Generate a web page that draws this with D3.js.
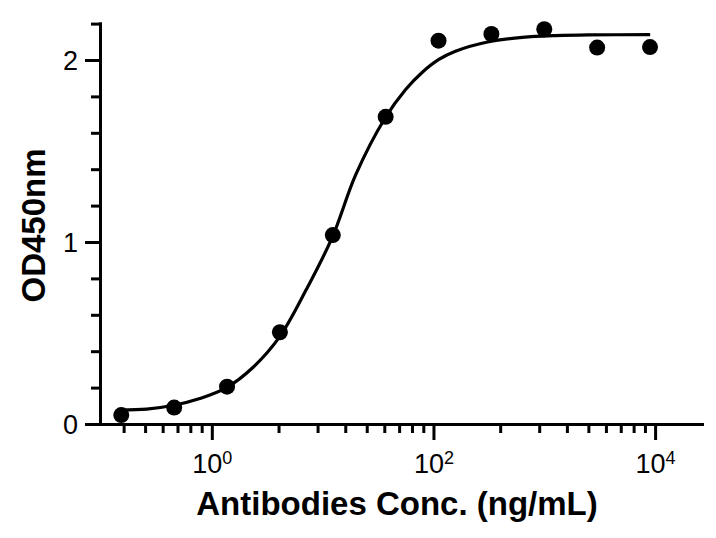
<!DOCTYPE html>
<html>
<head>
<meta charset="utf-8">
<script src="https://cdn.jsdelivr.net/npm/d3@7"></script>
<style>
  html, body { margin: 0; padding: 0; background: #fff; }
  svg { display: block; }
  text { font-family: "Liberation Sans", Arial, Helvetica, sans-serif; fill: #000; }
</style>
</head>
<body>
<svg id="chart" width="716" height="538"></svg>
<script>
// ---- data ----
const concentrations = [9000, 3000, 1000, 333.3, 111.1, 37.04, 12.35, 4.115, 1.372, 0.4572, 0.1524];
const odValues       = [2.071, 2.068, 2.169, 2.143, 2.106, 1.688, 1.038, 0.504, 0.205, 0.090, 0.049];

// fitted curve
const curveConc = [0.150, 0.258, 0.454, 0.779, 1.357, 2.36, 4.10, 7.14, 12.2, 19.9, 36.5, 56.1, 79.4, 112, 158, 316, 634, 1265, 2510, 9030];
const curveOD   = [0.077, 0.082, 0.103, 0.140, 0.200, 0.312, 0.480, 0.740, 1.025, 1.370, 1.680, 1.838, 1.933, 2.003, 2.048, 2.100, 2.124, 2.134, 2.138, 2.139];

const xMajorTicks = [1, 100, 10000];
const xMinorTicks = [0.16, 0.25, 0.36, 0.49, 0.64, 0.81,
                     4, 9, 16, 25, 36, 49, 64, 81,
                     400, 900, 1600, 2500, 3600, 4900, 6400, 8100];
const yMajorTicks = [0, 1, 2];
const yMinorTicks = [0.2, 0.4, 0.6, 0.8, 1.2, 1.4, 1.6, 1.8, 2.2];

const xTitle = "Antibodies Conc. (ng/mL)";
const yTitle = "OD450nm";

// ---- layout ----
const svg = d3.select("#chart");
const x = d3.scaleLog().domain([0.1, 26500]).range([101, 702]);
const y = d3.scaleLinear().domain([0, 2.2]).range([424, 23.6]);
const axisX0 = 100, axisY0 = 424;

function styleAxis(g) {
  g.selectAll("path.domain").attr("stroke", "#000").attr("stroke-width", 3).attr("stroke-linecap", "square");
  g.selectAll(".tick line").attr("stroke", "#000").attr("stroke-width", 3);
}

// Y axis: minor ticks
svg.append("g")
  .attr("transform", `translate(${axisX0},0)`)
  .call(d3.axisLeft(y).tickValues(yMinorTicks).tickSize(9).tickSizeOuter(0).tickFormat(""))
  .call(styleAxis);
// Y axis: major ticks + labels
const gy = svg.append("g")
  .attr("transform", `translate(${axisX0},0)`)
  .call(d3.axisLeft(y).tickValues(yMajorTicks).tickSize(15).tickSizeOuter(0).tickPadding(7).tickFormat(d3.format("d")))
  .call(styleAxis);
gy.selectAll(".tick text").attr("font-size", 27).attr("font-family", "Liberation Sans, Arial, sans-serif").attr("fill", "#000").attr("dy", "0.35em");

// X axis: minor ticks
svg.append("g")
  .attr("transform", `translate(0,${axisY0})`)
  .call(d3.axisBottom(x).tickValues(xMinorTicks).tickSize(9).tickSizeOuter(0).tickFormat(""))
  .call(styleAxis);
// X axis: major ticks + labels (10^n)
const gx = svg.append("g")
  .attr("transform", `translate(0,${axisY0})`)
  .call(d3.axisBottom(x).tickValues(xMajorTicks).tickSize(16).tickSizeOuter(0).tickFormat(""))
  .call(styleAxis);
gx.selectAll(".tick").each(function(d) {
  const t = d3.select(this).append("text")
    .attr("y", 49)
    .attr("text-anchor", "middle")
    .attr("font-size", 27)
    .attr("font-family", "Liberation Sans, Arial, sans-serif")
    .attr("fill", "#000");
  t.append("tspan").text("10");
  t.append("tspan").attr("font-size", 18).attr("dy", -9).text(String(Math.round(Math.log10(d))));
});

// Fitted curve
const curveData = curveConc.map((c, i) => [c, curveOD[i]]);
svg.append("path")
  .datum(curveData)
  .attr("fill", "none")
  .attr("stroke", "#000")
  .attr("stroke-width", 3.2)
  .attr("d", d3.line().x(d => x(d[0])).y(d => y(d[1])).curve(d3.curveCatmullRom.alpha(0.5)));

// Points
svg.append("g").selectAll("circle")
  .data(concentrations.map((c, i) => [c, odValues[i]]))
  .join("circle")
  .attr("cx", d => x(d[0]))
  .attr("cy", d => y(d[1]))
  .attr("r", 8)
  .attr("fill", "#000");

// Axis titles
svg.append("text")
  .attr("x", 397).attr("y", 515)
  .attr("text-anchor", "middle")
  .attr("font-size", 33).attr("font-weight", "bold")
  .text(xTitle);
svg.append("text")
  .attr("transform", "translate(45,225.5) rotate(-90)")
  .attr("text-anchor", "middle")
  .attr("font-size", 33).attr("font-weight", "bold")
  .text(yTitle);
</script>
</body>
</html>
